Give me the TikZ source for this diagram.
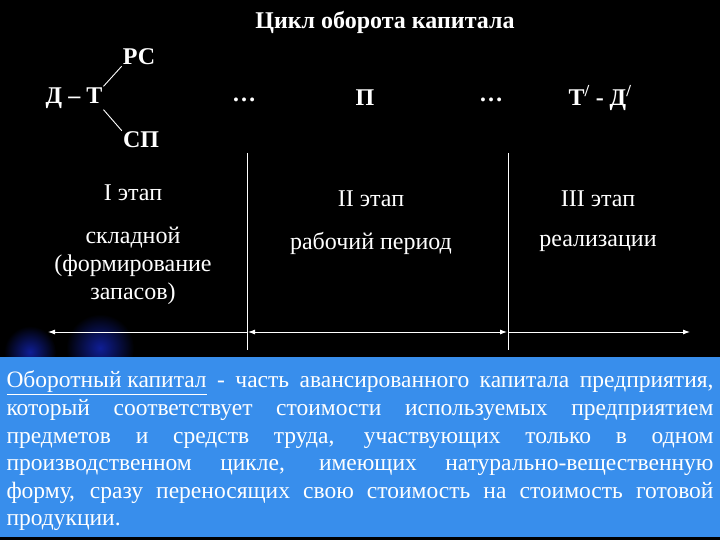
\documentclass[tikz,border=0pt]{standalone}
\usepackage{fontspec}
\setmainfont{Liberation Serif}
\newfontfamily\slidefont{Liberation Serif}
\usetikzlibrary{positioning,arrows.meta}
\definecolor{slideblue}{RGB}{56,142,236}
\definecolor{glowblue}{RGB}{15,30,150}

\begin{document}
\begin{tikzpicture}[x=1pt, y=-1pt,
    every node/.style={text=white, inner sep=1pt, font=\slidefont\fontsize{24}{28}\selectfont},
    head/.style={font=\slidefont\fontsize{24}{28}\selectfont\bfseries},
    stage/.style={align=center, font=\slidefont\fontsize{24}{28}\selectfont},
    link/.style={draw=white, line width=0.9pt},
    divider/.style={draw=white, line width=1pt},
    span/.style={draw=white, line width=0.9pt, arrows={-Latex[length=7pt,width=5pt]}}]
    % background
    \fill[black] (0,0) rectangle (720,540);
    \shade[inner color=glowblue, outer color=black] (100,348) circle (34);
    \shade[inner color=glowblue, outer color=black] (30,352) circle (26);
    % formula row
    \node[head] (title) at (385,22) {Цикл оборота капитала};
    \node[head] (dt) at (74,98) {Д – Т};
    \node[head] (rs) at (139,57) {РС};
    \node[head] (sp) at (141,140) {СП};
    \node[head] (dots1) at (244,100) {\dots};
    \node[head] (p) at (365,98) {П};
    \node[head] (dots2) at (491,100) {\dots};
    \node[head] (td) at (600,98) {Т\textsuperscript{/} - Д\textsuperscript{/}};
    \draw[link] (dt.north east) -- (rs.south west);
    \draw[link] (dt.south east) -- (sp.north west);
    % stages
    \node[stage] (st1) at (133,193) {I этап};
    \node[stage] (st2) at (371,199) {II этап};
    \node[stage] (st3) at (598,199) {III этап};
    \node[stage] (ds1) at (133,266) {складной\\(формирование\\запасов)};
    \node[stage] (ds2) at (371,243) {рабочий период};
    \node[stage] (ds3) at (598,243) {реализации};
    % dividers and time arrows
    \coordinate (v1top) at (247,153);
    \coordinate (v1bot) at (247,350);
    \coordinate (v2top) at (508,153);
    \coordinate (v2bot) at (508,350);
    \coordinate (a0) at (48,332);
    \coordinate (a1) at (247,332);
    \coordinate (a2) at (508,332);
    \coordinate (a3) at (690,332);
    \draw[divider] (v1top) -- (v1bot);
    \draw[divider] (v2top) -- (v2bot);
    \draw[span] (a1) -- (a0);
    \draw[span, arrows={Latex[length=7pt,width=5pt]-Latex[length=7pt,width=5pt]}] ([xshift=1pt]a1) -- ([xshift=-1pt]a2);
    \draw[span] (a2) -- (a3);
    % definition box
    \fill[slideblue] (0,357) rectangle (720,537);
    \node[align=justify, text width=707pt, font=\slidefont\fontsize{23.5}{27.6}\selectfont] (defn) at (360,451)
      {\underline{Оборотный капитал} - часть авансированного капитала предприятия,\linebreak
       который соответствует стоимости используемых предприятием\linebreak
       предметов и средств труда, участвующих только в одном\linebreak
       производственном цикле, имеющих натурально-вещественную\linebreak
       форму, сразу переносящих свою стоимость на стоимость готовой\linebreak
       продукции.};
\end{tikzpicture}
\end{document}
